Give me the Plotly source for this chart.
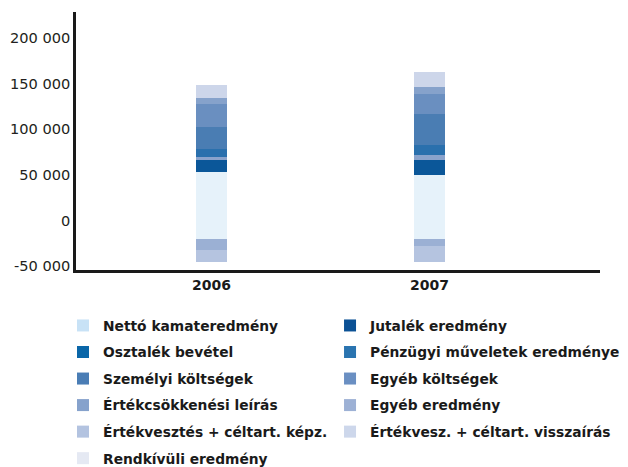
import plotly.graph_objects as go

years = ["2006", "2007"]

series_names = [
    "Nettó kamateredmény",
    "Jutalék eredmény",
    "Osztalék bevétel",
    "Pénzügyi műveletek eredménye",
    "Személyi költségek",
    "Egyéb költségek",
    "Értékcsökkenési leírás",
    "Egyéb eredmény",
    "Értékvesztés + céltart. képz.",
    "Értékvesz. + céltart. visszaírás",
    "Rendkívüli eredmény",
]

netto_kamat = [73500, 70200]
jutalek = [13200, 16400]
osztalek = [3300, 5500]
penzugyi = [9100, 11000]
szemelyi = [23800, 34000]
egyeb_koltseg = [25200, 21900]
ertekcsokk = [6600, 7700]
egyeb_eredmeny = [-12100, -7700]
ertekvesztes_kepz = [-13200, -17500]
ertekvesz_visszairas = [14300, 16400]
rendkivuli = [0, 0]

series_values = [
    netto_kamat, jutalek, osztalek, penzugyi, szemelyi, egyeb_koltseg,
    ertekcsokk, egyeb_eredmeny, ertekvesztes_kepz, ertekvesz_visszairas, rendkivuli,
]

bar_colors = ["#e6f2fa", "#0b5799", "#8aa3cc", "#2a70ad", "#4a7db3", "#6a8fc0",
              "#86a2cb", "#9bb0d4", "#b5c4e0", "#cdd6ea", "#e5e9f3"]
legend_colors = ["#c8e2f6", "#0b5195", "#0a66a8", "#2a74b0", "#4a7db5", "#6a8fc2",
                 "#86a2cc", "#9db1d5", "#b3c3e0", "#cdd7eb", "#e5e9f3"]

# legend column assignment (two columns, row-major order of the original)
legend_column = ["legend", "legend2", "legend", "legend2", "legend", "legend2",
                 "legend", "legend2", "legend", "legend2", "legend"]

ytick_labels = [-50000, 0, 50000, 100000, 150000, 200000]
ytick_offset = 20400

fig = go.Figure()

for name, vals, col in zip(series_names, series_values, bar_colors):
    fig.add_trace(go.Bar(
        x=years, y=vals, name=name, marker=dict(color=col, line=dict(width=0)),
        width=0.142, showlegend=False, hoverinfo="x+y+name",
    ))

# legend swatches (zero-height bars carrying the legend colours)
for i, (name, col, lg) in enumerate(zip(series_names, legend_colors, legend_column)):
    fig.add_trace(go.Bar(
        x=years, y=[0, 0], name=name, marker=dict(color=col, line=dict(width=0)),
        width=0.142, showlegend=True, legend=lg, legendgroup=f"g{i}",
        hoverinfo="skip",
    ))

legend_font = dict(family="DejaVu Sans", size=13.8, color="#1a1a1a", weight="bold")

# the page body adds an 8px margin, so the figure is 8px smaller than the window
fig.update_layout(
    width=620, height=459,
    margin=dict(l=68, r=28, t=4, b=197, autoexpand=False),
    paper_bgcolor="white", plot_bgcolor="white",
    barmode="relative",
    bargap=0,
    xaxis=dict(
        type="category", range=[-0.6216, 1.782],
        showline=True, linecolor="#1a1a1a", linewidth=2.5,
        showgrid=False, zeroline=False, ticks="",
        tickfont=dict(family="DejaVu Sans", size=14, color="#1a1a1a", weight="bold"),
    ),
    yaxis=dict(
        range=[-34000, 248900], autorange=False,
        showline=True, linecolor="#1a1a1a", linewidth=2.5,
        showgrid=False, zeroline=False, ticks="",
        tickmode="array",
        tickvals=[v + ytick_offset for v in ytick_labels],
        ticktext=[f"{v:,}".replace(",", " ") for v in ytick_labels],
        tickfont=dict(family="DejaVu Sans", size=14.6, color="#231f20"),
    ),
    legend=dict(
        x=-0.0248, y=-0.155,
        xanchor="left", yanchor="top", orientation="v",
        font=legend_font, tracegroupgap=5.6, bgcolor="rgba(0,0,0,0)",
        itemclick=False, itemdoubleclick=False,
    ),
    legend2=dict(
        x=0.4848, y=-0.155,
        xanchor="left", yanchor="top", orientation="v",
        font=legend_font, tracegroupgap=5.6, bgcolor="rgba(0,0,0,0)",
        itemclick=False, itemdoubleclick=False,
    ),
)

fig.write_html("out.html")
